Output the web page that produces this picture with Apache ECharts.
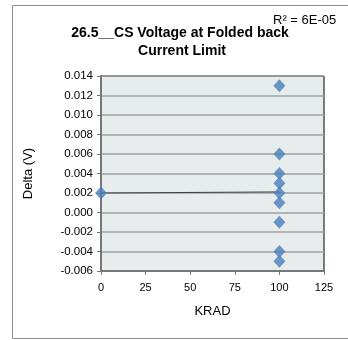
<!DOCTYPE html>
<html>
<head>
<meta charset="utf-8">
<script src="https://cdn.jsdelivr.net/npm/echarts@6/dist/echarts.min.js"></script>
<style>
  html, body { margin: 0; padding: 0; background: #fff; }
  #chart { width: 348px; height: 340px; }
</style>
</head>
<body>
<div id="chart"></div>
<script>
// Dose (KRAD) per measurement and the measured delta in volts
const krad = [0, 100, 100, 100, 100, 100, 100, 100, 100, 100];
const delta = [0.002, 0.013, 0.006, 0.004, 0.003, 0.002, 0.001, -0.001, -0.004, -0.005];
const xTicks = [0, 25, 50, 75, 100, 125];
const yTicks = [-0.006, -0.004, -0.002, 0.000, 0.002, 0.004, 0.006, 0.008, 0.010, 0.012, 0.014];
const titleLines = ['26.5__CS Voltage at Folded back', 'Current Limit'];
const rSquaredText = 'R² = 6E-05';

// Least-squares linear trend through the measurements
const n = krad.length;
const mx = krad.reduce((a, b) => a + b, 0) / n;
const my = delta.reduce((a, b) => a + b, 0) / n;
let sxy = 0, sxx = 0;
for (let i = 0; i < n; i++) {
  sxy += (krad[i] - mx) * (delta[i] - my);
  sxx += (krad[i] - mx) * (krad[i] - mx);
}
const slope = sxy / sxx;
const intercept = my - slope * mx;
const xMinData = Math.min(...krad), xMaxData = Math.max(...krad);
const trend = [
  [xMinData, intercept + slope * xMinData],
  [xMaxData, intercept + slope * xMaxData]
];

const font = 'Liberation Sans, Arial, sans-serif';
const chart = echarts.init(document.getElementById('chart'), null, { renderer: 'canvas' });
chart.setOption({
  animation: false,
  backgroundColor: '#fff',
  graphic: [
    { type: 'rect', shape: { x: 12.5, y: 5.5, width: 360, height: 333 },
      style: { fill: 'none', stroke: '#8c8c8c', lineWidth: 1 }, silent: true },
    { type: 'text', x: 180, y: 33,
      style: { text: titleLines[0], font: 'bold 14px ' + font, fill: '#000',
        textAlign: 'center', textVerticalAlign: 'middle' } },
    { type: 'text', x: 182, y: 51,
      style: { text: titleLines[1], font: 'bold 14px ' + font, fill: '#000',
        textAlign: 'center', textVerticalAlign: 'middle' } },
    { type: 'text', x: 273, y: 20,
      style: { text: rSquaredText, font: '13px ' + font, fill: '#000',
        textVerticalAlign: 'middle' } }
  ],
  grid: {
    left: 101, right: 24, top: 76, bottom: 69,
    show: true, backgroundColor: '#e7eded', borderColor: '#000', borderWidth: 1
  },
  xAxis: {
    type: 'value', min: 0, max: 125, interval: 25,
    name: 'KRAD', nameLocation: 'middle', nameGap: 34,
    nameTextStyle: { fontFamily: font, fontSize: 13, color: '#000' },
    axisLine: { show: true, onZero: false, lineStyle: { color: '#777', width: 2 } },
    axisTick: { show: true, length: 4, lineStyle: { color: '#777' } },
    axisLabel: { fontFamily: font, fontSize: 11, color: '#000', margin: 11,
      formatter: v => xTicks.includes(v) ? String(v) : '' },
    splitLine: { show: false }
  },
  yAxis: {
    type: 'value', min: -0.006, max: 0.014, interval: 0.002,
    name: 'Delta (V)', nameLocation: 'middle', nameGap: 66,
    nameTextStyle: { fontFamily: font, fontSize: 13, color: '#000' },
    axisLine: { show: true, onZero: false, lineStyle: { color: '#777', width: 2 } },
    axisTick: { show: true, length: 4, lineStyle: { color: '#777' } },
    axisLabel: { fontFamily: font, fontSize: 11.5, color: '#000', margin: 8,
      formatter: v => {
        const t = yTicks.find(k => Math.abs(k - v) < 1e-9);
        return t === undefined ? '' : t.toFixed(3);
      } },
    splitLine: { show: true, lineStyle: { color: '#a0a0a0', width: 1.5 } }
  },
  series: [
    {
      type: 'line', data: trend, showSymbol: false, symbol: 'none',
      lineStyle: { color: '#404040', width: 1 }, z: 2, silent: true
    },
    {
      type: 'scatter', data: krad.map((x, i) => [x, delta[i]]),
      symbol: 'diamond', symbolSize: [12, 13],
      itemStyle: { color: '#4a7ebb' }, z: 3, clip: false
    }
  ]
});
</script>
</body>
</html>
